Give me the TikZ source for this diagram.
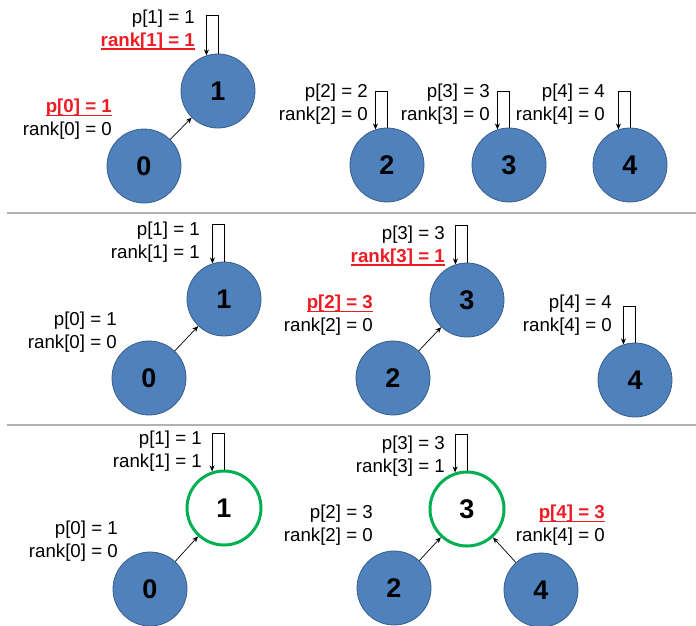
\documentclass[tikz,border=0pt]{standalone}
\usepackage{fontspec}
\setmainfont{Liberation Sans}
\definecolor{nodeblue}{RGB}{79,129,189}
\definecolor{nodeedge}{RGB}{56,93,138}
\definecolor{rootgreen}{RGB}{0,176,80}
\definecolor{chgred}{RGB}{237,28,36}
\usetikzlibrary{arrows.meta}
\newcommand{\chg}[1]{\textcolor{chgred}{\setbox0\hbox{\bfseries #1}%
    \rlap{\rule[-4pt]{\wd0}{1.8pt}}\box0}}

\begin{document}
\begin{tikzpicture}[x=1pt, y=-1pt,
      circ/.style={circle, draw=nodeedge, fill=nodeblue, line width=0.8pt,
          minimum size=74pt, inner sep=0pt,
          font=\fontsize{27}{27}\selectfont\bfseries},
      root/.style={circ, draw=rootgreen, fill=white, line width=3pt},
      lbl/.style={anchor=east, align=right, inner sep=0pt,
          font=\fontsize{18.7}{23}\selectfont},
      arr/.style={-{Stealth[length=6pt, width=5pt]}, black, line width=0.7pt},
      sep/.style={draw=gray!60, line width=1.5pt}
    ]
    \useasboundingbox (0,0) rectangle (696,625);

    % step 1: union(0,1)
    \node[circ] (a0) at (144,166) {0};
    \node[circ] (a1) at (218,91)  {1};
    \node[circ] (a2) at (387,165) {2};
    \node[circ] (a3) at (509,165) {3};
    \node[circ] (a4) at (630,165) {4};
    \node[lbl] (la1) at (195,30)  {p[1] = 1\\\chg{rank[1] = 1}};
    \node[lbl] (la0) at (112,119) {\chg{p[0] = 1}\\rank[0] = 0};
    \node[lbl] (la2) at (368,104) {p[2] = 2\\rank[2] = 0};
    \node[lbl] (la3) at (490,104) {p[3] = 3\\rank[3] = 0};
    \node[lbl] (la4) at (605,104) {p[4] = 4\\rank[4] = 0};

    \draw[arr] (a0) -- (a1);
    \draw[arr] (a1.north) -- ++(0,-38) -| (a1.108);
    \draw[arr] (a2.north) -- ++(0,-36) -| (a2.108);
    \draw[arr] (a3.north) -- ++(0,-36) -| (a3.108);
    \draw[arr] (a4.north) -- ++(0,-36) -| (a4.108);

    \coordinate (s1a) at (7,213);
    \coordinate (s1b) at (696,213);
    \draw[sep] (s1a) -- (s1b);

    % step 2: union(2,3)
    \node[circ] (b0) at (149,378) {0};
    \node[circ] (b1) at (224,299) {1};
    \node[circ] (b2) at (393,378) {2};
    \node[circ] (b3) at (467,300) {3};
    \node[circ] (b4) at (635,380) {4};
    \node[lbl] (lb1) at (200,242) {p[1] = 1\\rank[1] = 1};
    \node[lbl] (lb0) at (117,332) {p[0] = 1\\rank[0] = 0};
    \node[lbl] (lb3) at (445,246) {p[3] = 3\\\chg{rank[3] = 1}};
    \node[lbl] (lb2) at (373,315) {\chg{p[2] = 3}\\rank[2] = 0};
    \node[lbl] (lb4) at (612,315) {p[4] = 4\\rank[4] = 0};

    \draw[arr] (b0) -- (b1);
    \draw[arr] (b2) -- (b3);
    \draw[arr] (b1.north) -- ++(0,-37) -| (b1.108);
    \draw[arr] (b3.north) -- ++(0,-37) -| (b3.108);
    \draw[arr] (b4.north) -- ++(0,-36) -| (b4.108);

    \coordinate (s2a) at (7,425);
    \coordinate (s2b) at (696,425);
    \draw[sep] (s2a) -- (s2b);

    % step 3: union(4,3)
    \node[circ] (c0) at (150,589) {0};
    \node[root] (c1) at (224,508) {1};
    \node[circ] (c2) at (394,588) {2};
    \node[root] (c3) at (467,509) {3};
    \node[circ] (c4) at (541,590) {4};
    \node[lbl] (lc1) at (202,451) {p[1] = 1\\rank[1] = 1};
    \node[lbl] (lc0) at (118,541) {p[0] = 1\\rank[0] = 0};
    \node[lbl] (lc3) at (445,456) {p[3] = 3\\rank[3] = 1};
    \node[lbl] (lc2) at (373,525) {p[2] = 3\\rank[2] = 0};
    \node[lbl] (lc4) at (605,525) {\chg{p[4] = 3}\\rank[4] = 0};

    \draw[arr] (c0) -- (c1);
    \draw[arr] (c2) -- (c3);
    \draw[arr] (c4) -- (c3);
    \draw[arr] (c1.north) -- ++(0,-36) -| (c1.108);
    \draw[arr] (c3.north) -- ++(0,-36) -| (c3.108);
  \end{tikzpicture}
\end{document}
